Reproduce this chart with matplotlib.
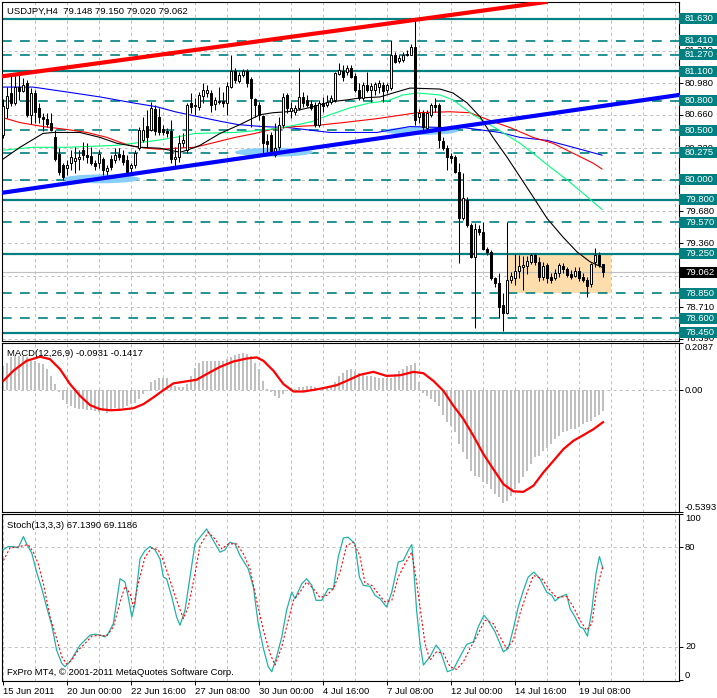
import matplotlib
matplotlib.use("Agg")
import matplotlib.pyplot as plt
from matplotlib.patches import Rectangle, Ellipse
from matplotlib.transforms import blended_transform_factory

plt.rcParams['font.family'] = ['Liberation Sans', 'DejaVu Sans']
plt.rcParams['font.size'] = 6.8
plt.rcParams['lines.scale_dashes'] = False

TEAL = '#008080'
GRID = '#C0C0C0'

# USDJPY H4 candles, bar 0 = 15 Jun 2011
opens = [80.45, 80.73, 80.88, 80.78, 80.94, 80.90, 80.98, 80.66, 80.88, 80.73,
         80.64, 80.62, 80.58, 80.43, 80.26, 80.15, 80.12, 80.17, 80.19, 80.21,
         80.30, 80.25, 80.24, 80.17, 80.17, 80.21, 80.09, 80.21, 80.20, 80.26,
         80.25, 80.20, 80.12, 80.15, 80.32, 80.40, 80.55, 80.51, 80.72, 80.64,
         80.52, 80.49, 80.49, 80.21, 80.23, 80.37, 80.30, 80.78, 80.75, 80.74,
         80.85, 80.88, 80.88, 80.77, 80.79, 80.80, 80.78, 80.94, 81.10, 81.00,
         81.06, 81.10, 81.02, 80.82, 80.76, 80.65, 80.39, 80.45, 80.25, 80.33,
         80.56, 80.86, 80.70, 80.69, 80.73, 80.84, 80.81, 80.77, 80.76, 80.56,
         80.78, 80.76, 80.79, 80.81, 81.07, 81.10, 81.09, 81.13, 81.05, 80.91,
         80.83, 80.96, 80.91, 80.91, 80.94, 80.96, 80.91, 80.93, 81.26, 81.20,
         81.21, 81.27, 81.27, 81.35, 80.64, 80.68, 80.53, 80.66, 80.76, 80.76,
         80.39, 80.32, 80.24, 80.23, 80.08, 79.61, 79.80, 79.54, 79.22, 79.50,
         79.47, 79.30, 79.27, 79.01, 78.95, 78.73, 78.65, 78.99, 79.01, 79.08,
         79.12, 79.13, 79.17, 79.24, 79.17, 79.02, 79.14, 79.02, 79.01, 79.06,
         79.13, 79.10, 79.05, 79.03, 79.08, 79.02, 78.99, 78.94, 79.17, 79.24,
         79.148]
highs = [80.82, 80.94, 81.06, 81.08, 81.06, 81.03, 81.01, 80.93, 80.91, 80.78,
         80.68, 80.68, 80.68, 80.50, 80.32, 80.17, 80.20, 80.30, 80.33, 80.30,
         80.38, 80.37, 80.33, 80.20, 80.30, 80.23, 80.15, 80.25, 80.32, 80.32,
         80.30, 80.25, 80.17, 80.30, 80.54, 80.64, 80.71, 80.79, 80.76, 80.73,
         80.56, 80.53, 80.61, 80.33, 80.45, 80.47, 80.78, 80.88, 80.83, 80.89,
         80.98, 80.96, 80.91, 80.84, 80.94, 80.89, 80.99, 81.27, 81.13, 81.09,
         81.12, 81.12, 81.04, 80.83, 80.79, 80.66, 80.46, 80.48, 80.58, 80.64,
         80.88, 80.88, 80.79, 80.76, 81.13, 80.89, 80.86, 80.81, 80.79, 80.81,
         80.84, 80.86, 80.86, 81.09, 81.18, 81.16, 81.16, 81.16, 81.08, 80.98,
         80.99, 81.09, 80.98, 80.99, 81.01, 80.99, 80.98, 81.42, 81.30, 81.26,
         81.30, 81.32, 81.38, 81.63, 80.72, 80.71, 80.71, 80.78, 80.83, 80.78,
         80.43, 80.35, 80.27, 80.25, 80.17, 80.07, 79.83, 79.56, 79.56, 79.54,
         79.57, 79.32, 79.29, 79.02, 79.06, 78.85, 79.57, 79.07, 79.25, 79.24,
         79.23, 79.23, 79.26, 79.26, 79.22, 79.17, 79.16, 79.06, 79.10, 79.16,
         79.16, 79.12, 79.09, 79.12, 79.12, 79.06, 79.02, 79.16, 79.31, 79.27,
         79.150]
lows = [80.42, 80.63, 80.75, 80.76, 80.81, 80.89, 80.64, 80.57, 80.58, 80.58,
        80.49, 80.54, 80.49, 80.19, 80.05, 80.00, 80.05, 80.10, 80.07, 80.10,
        80.20, 80.17, 80.15, 80.10, 80.12, 80.05, 80.05, 80.10, 80.17, 80.20,
        80.15, 80.07, 80.05, 80.12, 80.30, 80.38, 80.33, 80.49, 80.45, 80.45,
        80.45, 80.43, 80.17, 80.13, 80.18, 80.33, 80.27, 80.68, 80.66, 80.71,
        80.78, 80.84, 80.69, 80.71, 80.77, 80.74, 80.66, 80.93, 80.98, 80.98,
        81.04, 80.94, 80.54, 80.64, 80.61, 80.27, 80.28, 80.25, 80.23, 80.30,
        80.53, 80.68, 80.63, 80.66, 80.71, 80.74, 80.74, 80.71, 80.54, 80.54,
        80.69, 80.74, 80.77, 80.79, 81.06, 81.00, 81.06, 81.03, 80.89, 80.81,
        80.81, 80.89, 80.79, 80.86, 80.88, 80.79, 80.88, 80.91, 81.18, 81.18,
        81.19, 81.25, 81.26, 80.56, 80.58, 80.51, 80.51, 80.64, 80.69, 80.32,
        80.30, 80.10, 80.17, 80.07, 79.16, 79.59, 79.52, 79.21, 78.50, 79.44,
        79.29, 79.24, 78.99, 78.91, 78.60, 78.47, 78.64, 78.95, 78.93, 79.01,
        78.88, 79.05, 79.15, 79.14, 78.97, 78.99, 78.95, 78.95, 78.99, 79.02,
        79.06, 79.02, 79.00, 79.02, 78.97, 78.96, 78.81, 78.91, 79.12, 79.12,
        79.020]
closes = [80.75, 80.85, 80.78, 80.94, 80.90, 80.96, 80.66, 80.88, 80.69, 80.64,
          80.62, 80.57, 80.51, 80.21, 80.08, 80.03, 80.15, 80.23, 80.22, 80.23,
          80.25, 80.23, 80.17, 80.14, 80.26, 80.10, 80.12, 80.13, 80.25, 80.23,
          80.18, 80.08, 80.15, 80.27, 80.51, 80.51, 80.43, 80.73, 80.49, 80.48,
          80.48, 80.47, 80.21, 80.23, 80.37, 80.40, 80.76, 80.74, 80.76, 80.86,
          80.91, 80.91, 80.76, 80.81, 80.80, 80.78, 80.95, 81.10, 81.01, 81.06,
          81.10, 80.98, 80.83, 80.76, 80.66, 80.37, 80.36, 80.27, 80.32, 80.56,
          80.84, 80.73, 80.73, 80.73, 80.84, 80.78, 80.76, 80.73, 80.56, 80.78,
          80.75, 80.79, 80.83, 81.08, 81.11, 81.04, 81.13, 81.04, 80.91, 80.83,
          80.96, 80.91, 80.95, 80.97, 80.98, 80.90, 80.96, 81.26, 81.19, 81.23,
          81.27, 81.28, 81.35, 80.61, 80.68, 80.54, 80.68, 80.76, 80.74, 80.40,
          80.32, 80.23, 80.22, 80.08, 79.61, 79.82, 79.54, 79.22, 79.50, 79.47,
          79.30, 79.27, 79.01, 78.95, 78.71, 78.65, 78.99, 79.03, 79.08, 79.13,
          79.14, 79.18, 79.24, 79.17, 79.02, 79.13, 79.01, 78.99, 79.06, 79.14,
          79.10, 79.04, 79.02, 79.08, 79.01, 78.99, 78.92, 79.15, 79.24, 79.14,
          79.062]

# moving averages, (bar, price)
ma_black = [(0, 80.21), (4.25, 80.33), (10, 80.47), (12.5, 80.48), (19.25, 80.48),
            (24.25, 80.43), (28.5, 80.37), (34.25, 80.33), (39.25, 80.32), (44.25, 80.28),
            (46, 80.30), (49.25, 80.35), (54.25, 80.47), (59.25, 80.56), (64.25, 80.66),
            (67.5, 80.68), (71, 80.69), (74.25, 80.71), (77.5, 80.74), (81.75, 80.79),
            (86, 80.81), (89.25, 80.83), (94.25, 80.84), (97.5, 80.88), (101.75, 80.93),
            (109.25, 80.92), (112.5, 80.88), (116, 80.78), (119.25, 80.64), (122.5, 80.43),
            (126, 80.23), (129.25, 80.03), (132.5, 79.83), (136, 79.61), (140, 79.42),
            (143.5, 79.27), (146.75, 79.17), (150, 79.11)]
ma_green = [(0, 80.30), (7.5, 80.33), (16, 80.33), (28.5, 80.35), (38.5, 80.40),
            (43, 80.43), (48, 80.47), (58, 80.48), (66.25, 80.51), (71.25, 80.54),
            (77.25, 80.59), (81.75, 80.66), (86.75, 80.73), (91.75, 80.78), (96, 80.80),
            (100, 80.86), (103.5, 80.88), (109.25, 80.86), (112.5, 80.81), (117.5, 80.66),
            (122.5, 80.54), (129.25, 80.37), (132.5, 80.27), (136.75, 80.13), (141, 80.00),
            (146, 79.83), (149.75, 79.70)]
ma_red = [(0, 80.63), (4.25, 80.58), (10, 80.54), (16, 80.51), (21, 80.48),
          (26, 80.43), (29.25, 80.38), (32.5, 80.34), (36, 80.32), (39.25, 80.31),
          (43, 80.32), (48, 80.33), (53, 80.38), (58, 80.43), (63, 80.47),
          (68, 80.52), (73, 80.54), (78, 80.55), (85, 80.58), (93.5, 80.62),
          (103.5, 80.68), (111.75, 80.69), (116.75, 80.68), (122.5, 80.59), (126.75, 80.53),
          (132.5, 80.43), (137.5, 80.37), (142.5, 80.27), (147.5, 80.17), (149.75, 80.11)]
ma_blue = [(0, 80.94), (7.5, 80.94), (16, 80.89), (24.25, 80.84), (32.5, 80.78),
           (38.5, 80.74), (43, 80.69), (48.75, 80.64), (54.75, 80.59), (58.75, 80.56),
           (64.75, 80.54), (71.25, 80.53), (81.75, 80.48), (93.5, 80.48), (101.75, 80.54),
           (110, 80.53), (115, 80.53), (124.25, 80.48), (129.25, 80.43), (136, 80.40),
           (142.5, 80.33), (149.75, 80.25)]

red_trend = [(0, 81.05), (133.5, 81.79)]
blue_trend = [(0, 79.87), (169, 80.86)]
# touch zones: centre bar, centre price, span in bars, span in price
touch_zones = [(24.6, 80.01, 19.3, 0.09), (67.75, 80.28, 19.5, 0.09), (104.4, 80.495, 18.8, 0.08)]
range_box = (126, 152, 78.85, 79.25)

solid_levels = [81.630, 81.100, 79.800, 79.250, 78.450]
dashed_levels = [81.410, 81.270, 80.800, 80.500, 80.275, 80.000, 79.570, 78.850, 78.600]
grid_levels = [81.310, 80.980, 80.660, 80.320, 80.000, 79.680, 79.360, 79.030, 78.710, 78.390]
last_price = 79.062

macd_main = [0.108, 0.122, 0.145, 0.152, 0.152, 0.152, 0.145, 0.130, 0.130, 0.122,
             0.115, 0.093, 0.063, 0.027, -0.010, -0.043, -0.062, -0.072, -0.081, -0.084,
             -0.084, -0.087, -0.089, -0.091, -0.096, -0.091, -0.099, -0.084, -0.081, -0.084,
             -0.081, -0.072, -0.062, -0.055, -0.040, -0.018, -0.003, 0.034, 0.044, 0.052,
             0.052, 0.052, 0.027, 0.019, 0.012, 0.012, 0.027, 0.063, 0.096, 0.122,
             0.127, 0.128, 0.128, 0.128, 0.128, 0.130, 0.137, 0.145, 0.155, 0.159,
             0.164, 0.159, 0.152, 0.122, 0.093, 0.041, 0.007, -0.010, -0.025, -0.035,
             -0.018, -0.003, 0.002, 0.004, 0.012, 0.016, 0.019, 0.019, 0.012, 0.004,
             0.007, 0.012, 0.016, 0.034, 0.063, 0.078, 0.090, 0.093, 0.086, 0.078,
             0.071, 0.063, 0.063, 0.059, 0.056, 0.056, 0.052, 0.056, 0.071, 0.086,
             0.093, 0.105, 0.112, 0.122, 0.034, -0.013, -0.025, -0.040, -0.052, -0.072,
             -0.111, -0.140, -0.158, -0.187, -0.239, -0.273, -0.305, -0.357, -0.379, -0.386,
             -0.406, -0.416, -0.438, -0.460, -0.475, -0.500, -0.490, -0.468, -0.438, -0.412,
             -0.386, -0.357, -0.327, -0.298, -0.291, -0.268, -0.254, -0.239, -0.217, -0.202,
             -0.187, -0.180, -0.173, -0.170, -0.161, -0.150, -0.143, -0.136, -0.121, -0.111,
             -0.0931]
macd_signal = [(0.1, 0.041), (2.6, 0.086), (5.9, 0.130), (9.25, 0.148), (11.75, 0.137),
               (14.25, 0.093), (16.75, 0.027), (19.25, -0.025), (21.75, -0.066), (24.25, -0.084),
               (26.75, -0.089), (29.25, -0.087), (32.6, -0.080), (35.1, -0.062), (37.6, -0.032),
               (40.1, 0.000), (42.6, 0.030), (45.1, 0.037), (48.4, 0.046), (50.9, 0.071),
               (54.25, 0.103), (57.6, 0.127), (60.9, 0.140), (63.4, 0.145), (65.1, 0.130),
               (67.6, 0.086), (70.1, 0.027), (72.6, -0.006), (75.1, -0.006), (77.6, 0.001),
               (80.1, 0.009), (83.4, 0.022), (85.9, 0.041), (89.25, 0.068), (92.6, 0.081),
               (95.9, 0.063), (99.25, 0.066), (102.6, 0.081), (105.1, 0.075), (107.6, 0.041),
               (110.1, -0.003), (112.6, -0.069), (115.1, -0.128), (117.6, -0.202), (120.1, -0.283),
               (122.6, -0.350), (125.1, -0.416), (127.6, -0.448), (130.1, -0.450), (132.6, -0.423),
               (135.1, -0.364), (137.6, -0.313), (140.1, -0.261), (142.6, -0.224), (145.1, -0.199),
               (147.6, -0.173), (150, -0.1417)]

stoch_k = [(0, 78.4), (1.3, 80.4), (2.6, 80.4), (3.8, 79.6), (5.1, 86.4), (5.9, 82),
           (7.2, 76.4), (8.4, 65), (9.7, 55), (10.9, 44), (12.2, 33), (13.4, 18),
           (14.7, 10), (15.5, 8), (16.75, 11), (18, 16), (19.25, 21), (20.5, 24),
           (21.75, 27), (23, 27.6), (24.25, 27), (25.5, 26), (26.3, 28), (27.6, 34),
           (29.25, 61), (30.5, 59), (31.3, 50), (32.2, 38), (33, 46), (34.25, 73),
           (35.5, 78), (36.75, 80.4), (38, 78.4), (39.25, 73), (40.1, 62), (40.9, 61),
           (42.2, 50), (43.4, 38), (44.25, 33), (45.5, 42), (46.75, 62), (48, 82),
           (49.25, 86), (50.9, 91), (52.6, 84), (54.25, 77), (55.5, 78.4), (56.75, 83),
           (58, 82), (59.25, 75), (61.3, 67), (62.6, 56), (63.8, 34), (65.1, 19),
           (66.3, 8), (67.2, 5), (68.4, 14), (69.7, 26), (70.9, 42), (72.2, 53),
           (73, 49), (74.7, 58), (75.9, 61), (77.2, 57), (78.25, 48), (79.7, 48),
           (81.3, 55), (82.6, 55), (83.8, 74), (85.1, 85.6), (86.3, 86), (88, 82),
           (89.1, 62), (90.1, 57), (91.75, 56.4), (93, 51), (94.25, 49), (95.9, 44),
           (97.2, 53), (98.8, 71), (100.1, 72), (101.3, 78), (102.2, 81.6), (102.6, 70),
           (103.4, 42), (104.25, 22), (105.1, 9), (106.75, 14), (108.25, 21), (109.25, 18),
           (111.1, 5), (112.6, 6.4), (114.25, 14), (115.9, 21.4), (117.6, 23), (118.8, 32),
           (120.25, 39), (121.3, 36), (123, 29), (125.1, 17), (126.3, 19), (127.6, 31),
           (128.8, 44), (130.1, 54), (131.3, 62), (132.75, 65), (134.25, 61), (135.9, 53),
           (137.2, 51), (138, 47.6), (139.25, 50), (140.9, 51.6), (141.75, 43), (143, 38),
           (144.25, 32), (145.1, 31), (146.1, 26.4), (147.2, 42), (148.25, 64), (149.1, 74.4),
           (150, 67.139)]
stoch_d = [(0.1, 72), (1.75, 79.6), (3.4, 80), (6.3, 81.6), (7.6, 77), (8.8, 70),
           (10.1, 58), (11.75, 38), (13.4, 25), (14.7, 14), (15.9, 9.6), (17.2, 12),
           (18.8, 18), (20.5, 22), (22.2, 26.4), (24.25, 27), (25.9, 26.4), (27.6, 32),
           (29.25, 47), (30.5, 56.4), (31.75, 52), (32.6, 44), (33.8, 58), (35.5, 74),
           (37.2, 79.6), (38.8, 78.4), (40.1, 72), (41.75, 60), (43.4, 48), (45.1, 37),
           (46.3, 44), (48, 64), (49.25, 81), (51.3, 89), (53, 85), (54.7, 79),
           (56.3, 82), (58.4, 82), (60.1, 76), (61.75, 67), (63.4, 48), (65.1, 30),
           (66.75, 16), (68, 9), (69.7, 20), (70.9, 32), (72.6, 48), (74.25, 53),
           (75.9, 59), (77.6, 55), (79.25, 49.6), (80.9, 51), (82.6, 55), (84.25, 65),
           (85.9, 81), (87.6, 83), (89.2, 75), (90.5, 58.4), (92.2, 57), (93.8, 52),
           (95.5, 47), (97.2, 48), (98.8, 62), (100.5, 70), (102.2, 77), (103.4, 59),
           (104.25, 44), (105.5, 22), (106.75, 12), (108.4, 17), (110.1, 16), (111.75, 8),
           (113.4, 6.4), (115.1, 11), (116.75, 19), (118.4, 26), (120.5, 36), (122.6, 34),
           (124.25, 26), (125.9, 19), (127.6, 24), (129.25, 40), (130.9, 52), (132.6, 63),
           (134.7, 61), (136.75, 54), (138.4, 49.6), (140.9, 50.4), (142.6, 44), (144.25, 36),
           (145.9, 30), (147.2, 34), (148.4, 54), (150, 69.119)]

date_labels = ['15 Jun 2011', '20 Jun 00:00', '22 Jun 16:00', '27 Jun 08:00', '30 Jun 00:00',
               '4 Jul 16:00', '7 Jul 08:00', '12 Jul 00:00', '14 Jul 16:00', '19 Jul 08:00']

# ---- figure / panels (pixel layout of the terminal window) ----
W, H = 717, 698
PW = 677
fig = plt.figure(figsize=(W / 100, H / 100), dpi=100)
fig.patch.set_facecolor('white')


def panel(top, bottom):
    a = fig.add_axes([2 / W, 1 - bottom / H, PW / W, (bottom - top) / H])
    a.set_xlim(-0.25, 169)
    for s in a.spines.values():
        s.set_linewidth(0.8)
        s.set_color('black')
    a.set_xticks([])
    a.set_xticks(range(8, 170, 8), minor=True)
    a.tick_params(axis='x', which='both', length=0, labelbottom=False)
    a.grid(axis='x', which='both', color=GRID, lw=0.7, ls=(0, (2.2, 2.2)), zorder=0)
    a.set_axisbelow(True)
    a.yaxis.tick_right()
    a.tick_params(axis='y', direction='out', length=3, width=0.7, labelright=False)
    return a


ax = panel(2, 341)
axm = panel(343, 512)
axs = panel(514, 681)


def right_text(a, value, text, face=None, color='black', va='center', h_units=None):
    tr = blended_transform_factory(a.transAxes, a.transData)
    if face is not None:
        a.add_patch(Rectangle((1.0, value - h_units / 2), 38 / PW, h_units, transform=tr,
                              facecolor=face, edgecolor='none', clip_on=False, zorder=10))
    a.text(1 + 6 / PW, value, text, transform=tr, color=color, va=va, ha='left',
           clip_on=False, zorder=11 if face is not None else 9)


# ---- main price panel ----
ymin, ymax = 78.367, 81.802
ax.set_ylim(ymin, ymax)
box_h = 11 * (ymax - ymin) / 339

for g in grid_levels:
    ax.axhline(g, color=GRID, lw=0.7, ls=(0, (2.2, 2.2)), zorder=0.5)
ax.axhline(last_price, color=GRID, lw=0.8, zorder=0.8)

x0, x1, p0, p1 = range_box
ax.add_patch(Rectangle((x0, p0), x1 - x0, p1 - p0, facecolor='#FCDDAB', edgecolor='none', zorder=0.7))

for lvl in solid_levels:
    ax.axhline(lvl, color=TEAL, lw=1.6, zorder=1.5)
for lvl in dashed_levels:
    ax.axhline(lvl, color=TEAL, lw=1.2, ls=(0, (7, 6)), zorder=1.5)

for bc, pc, bw, ph in touch_zones:
    ax.add_patch(Ellipse((bc, pc), bw, ph, facecolor='#87CEFA', edgecolor='none', zorder=1.8))

for pts, col in [(ma_blue, '#0000FF'), (ma_red, '#FF0000'), (ma_green, '#00FF7F'), (ma_black, 'black')]:
    xs, ys = zip(*pts)
    ax.plot(xs, ys, color=col, lw=0.8, zorder=2.5)

bars = list(range(len(opens)))
ax.vlines(bars, lows, highs, color='black', lw=0.75, zorder=3)
bottoms = [min(o, c) for o, c in zip(opens, closes)]
heights = [max(abs(c - o), 0.006) for o, c in zip(opens, closes)]
faces = ['white' if c >= o else 'black' for o, c in zip(opens, closes)]
ax.bar(bars, heights, bottom=bottoms, width=0.55, color=faces, edgecolor='black', lw=0.7, zorder=3.1)

ax.axline(red_trend[0], red_trend[1], color='#FF0000', lw=3, zorder=4)
ax.axline(blue_trend[0], blue_trend[1], color='#0000FF', lw=3, zorder=4)

box_levels = solid_levels + dashed_levels
ax.set_yticks(grid_levels + box_levels)
for g in grid_levels:
    # labels fully hidden behind a level box in the terminal are left out
    if any(abs(g - b) < 0.01 for b in box_levels) or abs(g - last_price) < 0.05:
        continue
    right_text(ax, g, f"{g:.3f}")
for lvl in box_levels:
    right_text(ax, lvl, f"{lvl:.3f}", face=TEAL, color='white', h_units=box_h)
right_text(ax, last_price, f"{last_price:.3f}", face='black', color='white', h_units=box_h)

ax.text(5 / PW, 0.974, 'USDJPY,H4  79.148 79.150 79.020 79.062', transform=ax.transAxes,
        va='center', ha='left', zorder=12)

# ---- MACD panel ----
mtop, mbot = 0.2087, -0.5393
axm.set_ylim(mbot, mtop)
axm.axhline(0, color=GRID, lw=0.7, ls=(0, (2.2, 2.2)), zorder=0.5)
axm.bar(bars, macd_main, width=0.72, color=GRID, zorder=2)
sx, sy = zip(*macd_signal)
axm.plot(sx, sy, color='#FF0000', lw=1.6, zorder=3)
axm.set_yticks([mbot, 0, mtop])
right_text(axm, mtop, f"{mtop:.4f}", va='top')
right_text(axm, 0, '0.00')
right_text(axm, mbot, f"{mbot:.4f}", va='bottom')
axm.text(5 / PW, 0.935, 'MACD(12,26,9) -0.0931 -0.1417', transform=axm.transAxes,
         va='center', ha='left')

# ---- Stochastic panel ----
axs.set_ylim(-0.6, 100)
for g in (20, 80):
    axs.axhline(g, color=GRID, lw=0.7, ls=(0, (2.2, 2.2)), zorder=0.5)
kx, ky = zip(*stoch_k)
dx, dy = zip(*stoch_d)
axs.plot(kx, ky, color='#20B2AA', lw=0.9, zorder=3)
axs.plot(dx, dy, color='#FF0000', lw=0.8, ls=(0, (1.5, 1.5)), zorder=3.1)
axs.set_yticks([0, 20, 80, 100])
right_text(axs, 100, '100', va='top')
right_text(axs, 80, '80')
right_text(axs, 20, '20')
right_text(axs, 0, '0', va='bottom')
axs.text(5 / PW, 0.934, 'Stoch(13,3,3) 67.1390 69.1186', transform=axs.transAxes,
         va='center', ha='left')
axs.text(5 / PW, 0.048, 'FxPro MT4, © 2001-2011 MetaQuotes Software Corp.', transform=axs.transAxes,
         va='center', ha='left')

axs.set_xticks(range(0, 16 * len(date_labels), 16))
axs.set_xticklabels(date_labels, ha='left')
axs.tick_params(axis='x', which='major', length=3, width=0.7, direction='out', pad=1.5,
                labelbottom=True, bottom=True)

fig.savefig('out.png', dpi=100, facecolor='white')
